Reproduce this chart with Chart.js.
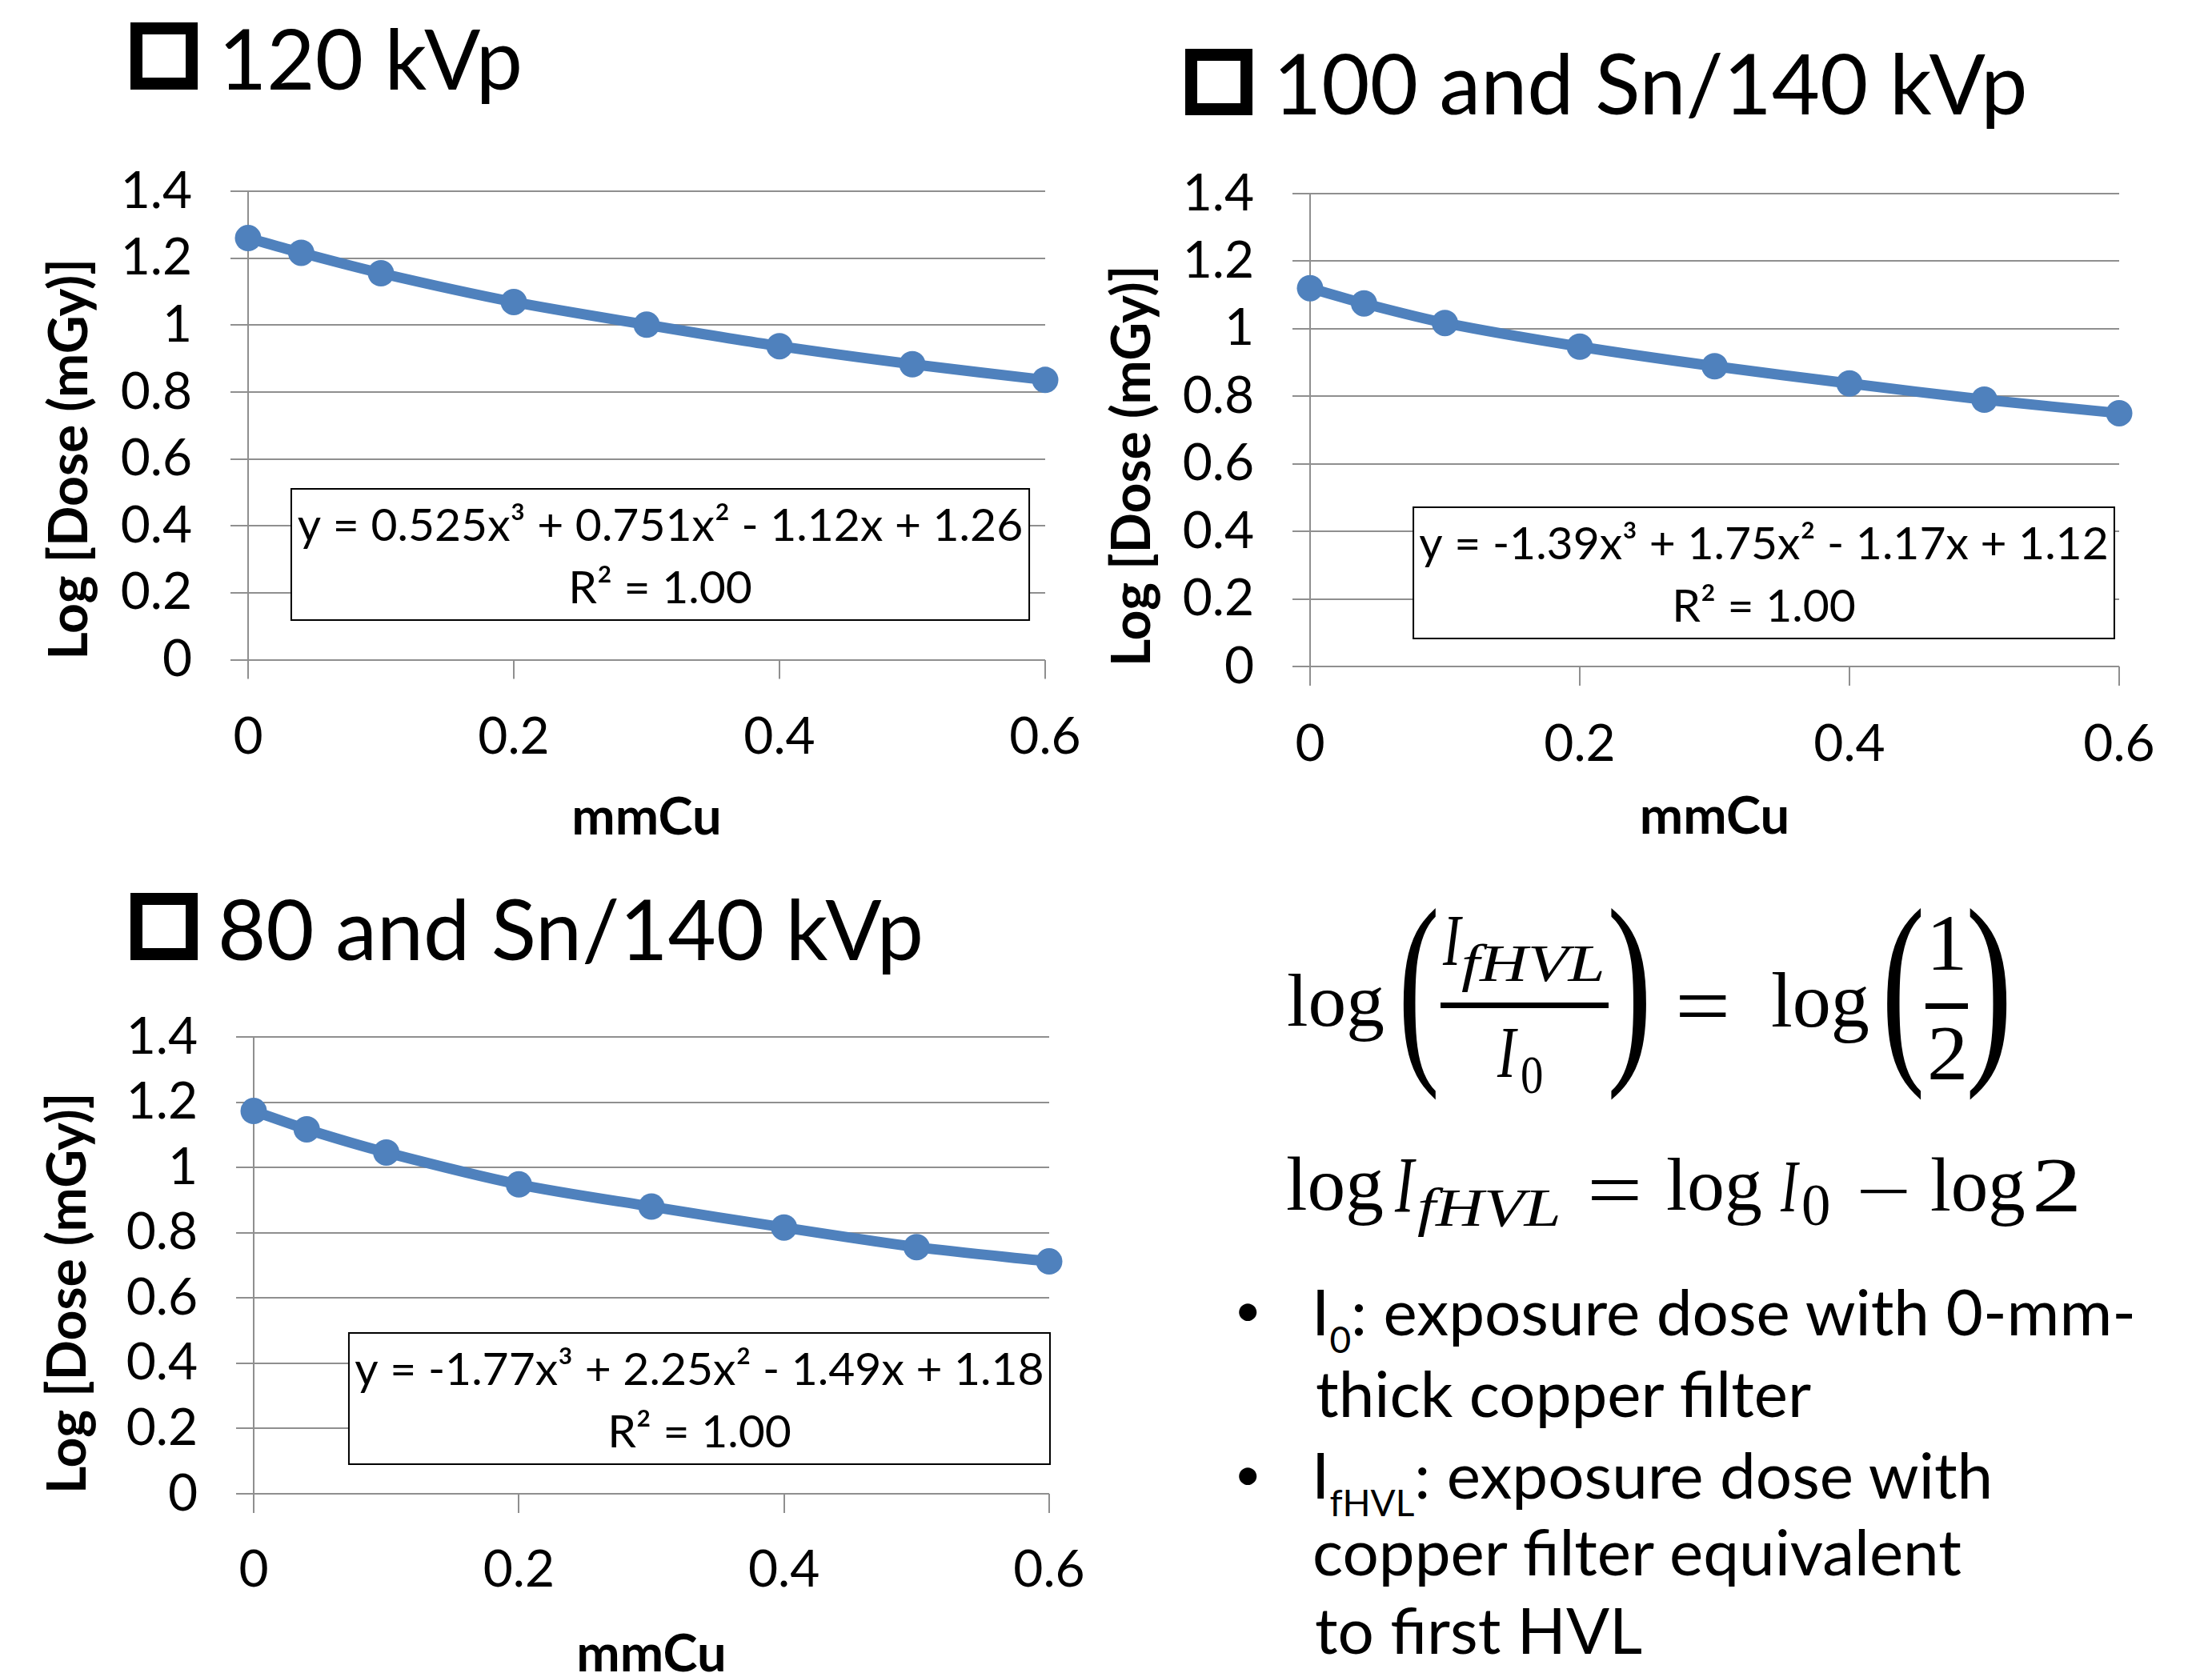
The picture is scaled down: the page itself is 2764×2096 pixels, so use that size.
<!DOCTYPE html>
<html><head><meta charset="utf-8">
<script src="https://cdn.jsdelivr.net/npm/chart.js@4.4.1/dist/chart.umd.min.js"></script>
<style>
html,body{margin:0;padding:0;background:#fff;}
body{width:2764px;height:2096px;overflow:hidden;position:relative;color:#000;font-family:Lato,sans-serif;}
canvas{position:absolute;}
.sq{position:absolute;box-sizing:border-box;border:15px solid #000;background:#fff;}
.t{position:absolute;white-space:nowrap;margin:0;padding:0;}
.bar{position:absolute;background:#000;}
.sb{font-size:46px;position:relative;top:22px;}
</style></head><body>
<script>
// ---------------- data ----------------
const mmCu = [0, 0.04, 0.1, 0.2, 0.3, 0.4, 0.5, 0.6];
const dose120 = [1.260, 1.216, 1.155, 1.069, 1.001, 0.937, 0.883, 0.836];
const dose100Sn = [1.120, 1.075, 1.017, 0.947, 0.889, 0.838, 0.790, 0.750];
const dose80Sn = [1.173, 1.117, 1.046, 0.948, 0.880, 0.816, 0.756, 0.712];
const xTickLabels = ['0', '0.2', '0.4', '0.6'];
const yTickLabels = ['0', '0.2', '0.4', '0.6', '0.8', '1', '1.2', '1.4'];
const chartTitles = ['120 kVp', '100 and Sn/140 kVp', '80 and Sn/140 kVp'];
const fitEquations = ['y = 0.525x³ + 0.751x² - 1.12x + 1.26', 'y = -1.39x³ + 1.75x² - 1.17x + 1.12', 'y = -1.77x³ + 2.25x² - 1.49x + 1.18'];
const r2Labels = ['R² = 1.00', 'R² = 1.00', 'R² = 1.00'];
const xTitle = 'mmCu';
const yTitle = 'Log [Dose (mGy)]';

// ---------------- helpers ----------------
const mctx = document.createElement('canvas').getContext('2d');
function metrics(text, font) { mctx.font = font; return mctx.measureText(text); }
function baselineOffset(font, size) {
  const m = metrics('Hg', font);
  const A = m.fontBoundingBoxAscent, D = m.fontBoundingBoxDescent;
  return (size - (A + D)) / 2 + A;
}
function placeText(html, font, size, inkLeft, baseline, firstChar) {
  const el = document.createElement('div');
  el.className = 't'; el.innerHTML = html;
  el.style.font = font; el.style.lineHeight = size + 'px';
  const m = metrics(firstChar, font);
  el.style.left = (inkLeft + m.actualBoundingBoxLeft) + 'px';
  el.style.top = (baseline - baselineOffset(font, size)) + 'px';
  document.body.appendChild(el);
  return el;
}
function fitInk(text, font, size, L, T, R, B) {
  const el = document.createElement('div');
  el.className = 't'; el.textContent = text;
  el.style.font = font; el.style.lineHeight = size + 'px';
  const m = metrics(text, font);
  const inkW = m.actualBoundingBoxLeft + m.actualBoundingBoxRight;
  const inkH = m.actualBoundingBoxAscent + m.actualBoundingBoxDescent;
  const sx = (R - L) / inkW, sy = (B - T) / inkH;
  const b = baselineOffset(font, size);
  const ox = L + sx * m.actualBoundingBoxLeft;
  const oy = T + sy * m.actualBoundingBoxAscent;
  el.style.left = ox + 'px';
  el.style.top = (oy - b) + 'px';
  el.style.transformOrigin = '0px ' + b + 'px';
  el.style.transform = 'scale(' + sx + ',' + sy + ')';
  document.body.appendChild(el);
  return el;
}
function bar(L, T, R, B) {
  const d = document.createElement('div');
  d.className = 'bar';
  d.style.left = L + 'px'; d.style.top = T + 'px';
  d.style.width = (R - L) + 'px'; d.style.height = (B - T) + 'px';
  document.body.appendChild(d);
}
function square(L, T, W, H) {
  const d = document.createElement('div');
  d.className = 'sq';
  d.style.left = L + 'px'; d.style.top = T + 'px';
  d.style.width = W + 'px'; d.style.height = H + 'px';
  document.body.appendChild(d);
}

// ---------------- chart titles ----------------
const TF = '104px Lato';
square(163, 28, 84, 84);   placeText(chartTitles[0], TF, 104, 281, 112, '1');
square(1481, 61, 84, 83);  placeText(chartTitles[1], TF, 104, 1599, 143, '1');
square(163, 1116, 84, 84); placeText(chartTitles[2], TF, 104, 277, 1200, '8');

// ---------------- charts ----------------
Chart.defaults.font.family = 'Lato';
Chart.defaults.color = '#000';
const GRID = '#8f8f8f';
const BLUE = '#4F81BD';

const eqBoxPlugin = {
  id: 'eqBox',
  beforeDatasetsDraw(chart, args, opts) {
    const {ctx} = chart; const x = chart.scales.x, y = chart.scales.y;
    const L = x.getPixelForValue(opts.x0), R = x.getPixelForValue(opts.x1);
    const T = y.getPixelForValue(opts.y0), B = y.getPixelForValue(opts.y1);
    ctx.save();
    ctx.fillStyle = '#fff'; ctx.fillRect(L, T, R - L, B - T);
    ctx.strokeStyle = '#000'; ctx.lineWidth = 2; ctx.strokeRect(L, T, R - L, B - T);
    ctx.fillStyle = '#000'; ctx.font = '57px Lato';
    ctx.textAlign = 'center'; ctx.textBaseline = 'alphabetic';
    const cx = (L + R) / 2;
    ctx.fillText(opts.line1, cx, T + 65);
    ctx.fillText(opts.line2, cx, B - 21);
    ctx.restore();
  }
};

const specs = [
  {left: 0, top: 140, w: 1396, h: 923, area: {l: 310, t: 99, r: 1306, b: 684.5}, values: dose120,
   box: {x0: 0.0325, x1: 0.588, y0: 0.5105, y1: 0.1184}, k: 0, yTitlePad: 48, xTitlePad: 2, xTickPad: 40.5},
  {left: 1330, top: 140, w: 1434, h: 923, area: {l: 307, t: 102, r: 1318, b: 693}, values: dose100Sn,
   box: {x0: 0.0766, x1: 0.5964, y0: 0.4714, y1: 0.0829}, k: 1, yTitlePad: 46, xTitlePad: 3, xTickPad: 41},
  {left: 0, top: 1200, w: 1401, h: 920, area: {l: 317, t: 96, r: 1311, b: 667}, values: dose80Sn,
   box: {x0: 0.0718, x1: 0.6006, y0: 0.4928, y1: 0.0907}, k: 2, yTitlePad: 46, xTitlePad: 13, xTickPad: 39}
];

function makeChart(spec) {
  const cv = document.createElement('canvas');
  cv.width = spec.w; cv.height = spec.h;
  cv.style.left = spec.left + 'px'; cv.style.top = spec.top + 'px';
  cv.style.width = spec.w + 'px'; cv.style.height = spec.h + 'px';
  document.body.appendChild(cv);
  const a = spec.area;
  new Chart(cv, {
    type: 'line',
    data: {
      datasets: [{
        data: mmCu.map((x, i) => ({x: x, y: spec.values[i]})),
        borderColor: BLUE, backgroundColor: BLUE,
        borderWidth: 13, pointRadius: 16.5, pointBorderWidth: 0,
        pointBackgroundColor: BLUE, tension: 0.3, clip: false, fill: false
      }]
    },
    options: {
      responsive: false, animation: false, devicePixelRatio: 1,
      layout: {padding: {left: 0, top: a.t, right: spec.w - a.r, bottom: 0}},
      plugins: {
        legend: {display: false}, tooltip: {enabled: false},
        eqBox: {x0: spec.box.x0, x1: spec.box.x1, y0: spec.box.y0, y1: spec.box.y1,
                line1: fitEquations[spec.k], line2: r2Labels[spec.k]}
      },
      scales: {
        x: {
          type: 'linear', min: 0, max: 0.6,
          ticks: {stepSize: 0.2, padding: spec.xTickPad, font: {size: 64, lineHeight: 1}, color: '#000', maxRotation: 0,
                  callback: (v, i) => xTickLabels[i]},
          grid: {drawOnChartArea: false, drawTicks: true, tickLength: 24, color: GRID, lineWidth: 2},
          border: {display: false},
          title: {display: true, text: xTitle, font: {size: 65, weight: 'bold', lineHeight: 1.2}, color: '#000',
                  padding: {top: 0, bottom: spec.xTitlePad}},
          afterFit: s => { s.height = spec.h - a.b; }
        },
        y: {
          type: 'linear', min: 0, max: 1.4,
          ticks: {stepSize: 0.2, padding: 48, font: {size: 64, lineHeight: 1}, color: '#000',
                  callback: (v, i) => yTickLabels[i]},
          grid: {drawTicks: true, tickLength: 22, color: GRID, lineWidth: 2},
          border: {display: true, color: GRID, width: 2},
          title: {display: true, text: yTitle, align: 'start', font: {size: 66, weight: 'bold', lineHeight: 1.2}, color: '#000',
                  padding: {top: spec.yTitlePad, bottom: 0}},
          afterFit: s => { s.width = a.l; }
        }
      }
    },
    plugins: [eqBoxPlugin]
  });
}
specs.forEach(makeChart);

// ---------------- formulas ----------------
const SR = '100px "Liberation Serif"';
const SI = 'italic 100px "Liberation Serif"';
// row 1
fitInk('log', SR, 100, 1610, 1218, 1729, 1302);
fitInk('(', SR, 100, 1753, 1135, 1795, 1378);
fitInk('I', SI, 100, 1802, 1147, 1828, 1207);
fitInk('fHVL', SI, 100, 1827, 1180, 2002, 1240);
bar(1800, 1253, 2010, 1260);
fitInk('I', SI, 100, 1870, 1287, 1897, 1347);
fitInk('0', SR, 100, 1902, 1322, 1927, 1368);
fitInk(')', SR, 100, 2013, 1135, 2057, 1378);
fitInk('=', SR, 100, 2098, 1244, 2157, 1271);
fitInk('log', SR, 100, 2215, 1217, 2335, 1304);
fitInk('(', SR, 100, 2358, 1135, 2402, 1378);
fitInk('1', SR, 100, 2415, 1147, 2452, 1212);
bar(2406, 1254, 2459, 1261);
fitInk('2', SR, 100, 2412, 1285, 2454, 1350);
fitInk(')', SR, 100, 2461, 1135, 2507, 1378);
// row 2
fitInk('log', SR, 100, 1609, 1447, 1728, 1532);
fitInk('I', SI, 100, 1742, 1450, 1770, 1515);
fitInk('fHVL', SI, 100, 1772, 1485, 1947, 1547);
fitInk('=', SR, 100, 1988, 1475, 2047, 1500);
fitInk('log', SR, 100, 2084, 1448, 2201, 1532);
fitInk('I', SI, 100, 2224, 1454, 2249, 1515);
fitInk('0', SR, 100, 2253, 1483, 2285, 1533);
fitInk('\u2212', SR, 100, 2324, 1487, 2383, 1492);
fitInk('log', SR, 100, 2414, 1448, 2530, 1533);
fitInk('2', SR, 100, 2544, 1450, 2595, 1515);

// ---------------- bullet text ----------------
const BF = '80px Lato';
fitInk('\u2022', BF, 80, 1548, 1629, 1571, 1651);
fitInk('\u2022', BF, 80, 1548, 1834, 1571, 1856);
placeText('I<span class="sb">0</span>: exposure dose with 0-mm-', BF, 80, 1646, 1669, 'I');
placeText('thick copper filter', BF, 80, 1645, 1771, 't');
placeText('I<span class="sb">fHVL</span>: exposure dose with', BF, 80, 1646, 1873, 'I');
placeText('copper filter equivalent', BF, 80, 1643, 1969, 'c');
placeText('to first HVL', BF, 80, 1644, 2067, 't');
</script>
</body></html>
